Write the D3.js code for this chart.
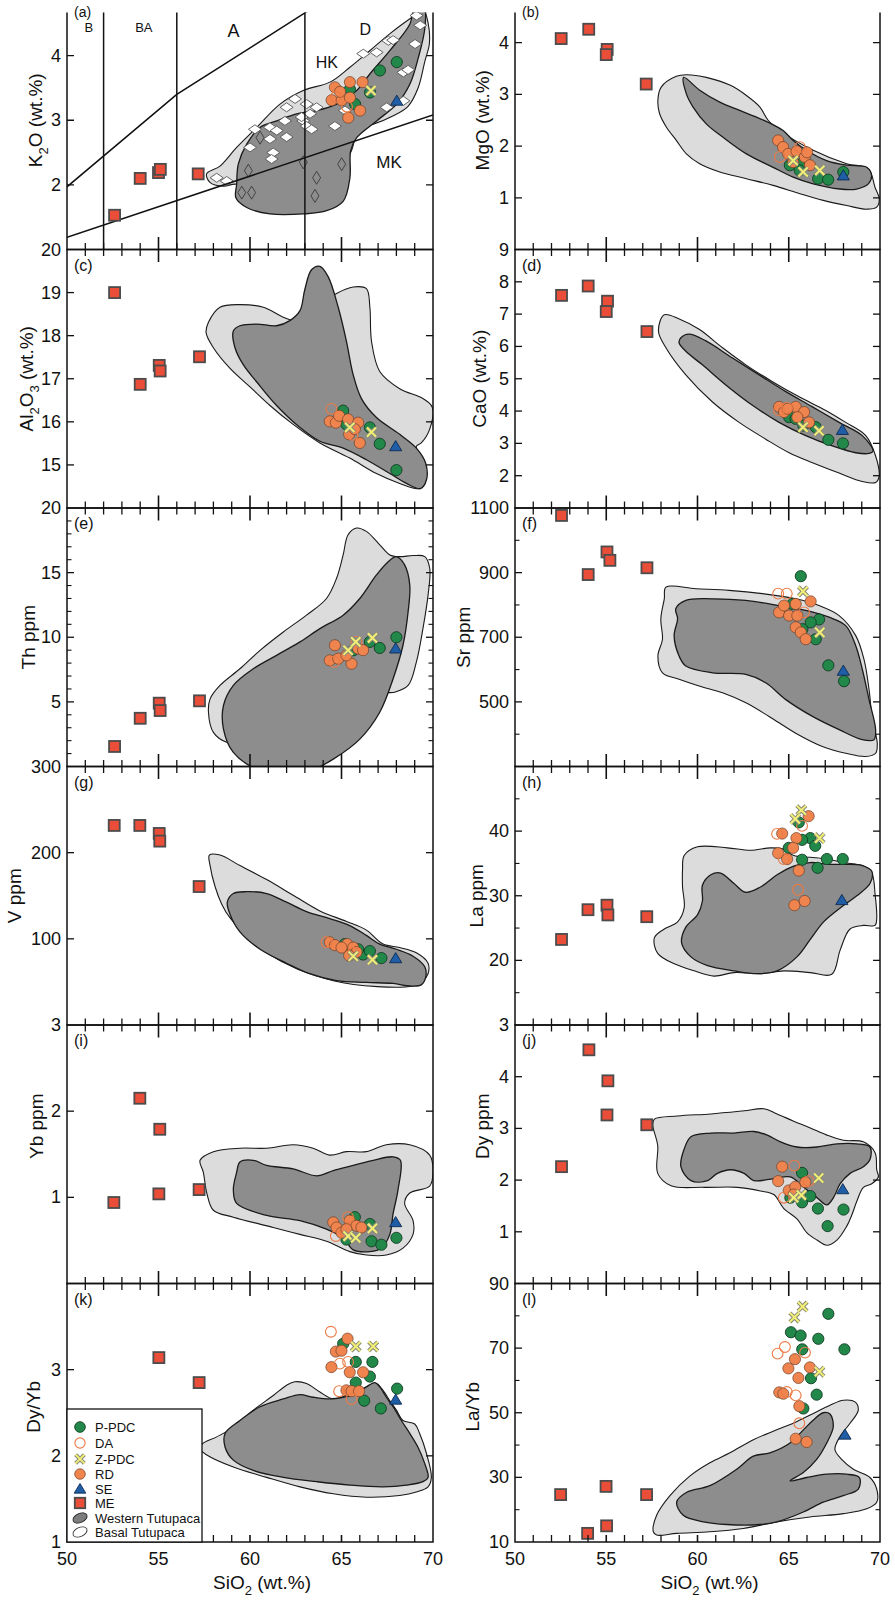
<!DOCTYPE html>
<html><head><meta charset="utf-8">
<script src="https://cdn.jsdelivr.net/npm/d3@7"></script>
<style>body{margin:0;background:#fff}svg{display:block}</style>
</head><body><svg id="c" width="895" height="1600"></svg>
<script>
// ---------------- DATA ----------------
const groups = ["P-PDC","DA","Z-PDC","RD","SE","ME"];
const fieldNames = ["Western Tutupaca","Basal Tutupaca"];
const xTickValues = d3.range(50,71,1);
const xTickLabels = [50,55,60,65,70];

// (a) K2O
const dataA = [
 ["ME",52.6,1.53],["ME",54.0,2.10],["ME",55.0,2.19],["ME",55.1,2.24],["ME",57.17,2.17],
 ["P-PDC",67.1,3.77],["P-PDC",68.02,3.90],["P-PDC",66.56,3.43],["P-PDC",65.74,3.25],["P-PDC",65.46,3.48],
 ["RD",64.64,3.51],["RD",65.46,3.59],["RD",66.15,3.59],["RD",64.46,3.31],["RD",65.01,3.31],["RD",65.46,3.35],["RD",66.01,3.15],["RD",65.37,3.04],["RD",64.92,3.44],
 ["DA",65.3,3.21],["DA",64.7,3.36],
 ["Z-PDC",66.61,3.46],["SE",68.02,3.3]
];
const basalDiamondsA = [[58.18,2.11],[58.73,2.06],[60.0,2.58],[60.27,2.86],[61.09,2.89],[61.91,2.99],[62.0,3.20],[62.46,3.33],[61.46,2.84],[61.09,2.71],[62.0,2.74],
 [62.91,2.99],[63.28,3.10],[62.82,3.05],[63.64,3.20],[63.1,3.25],[63.1,2.91],[63.37,2.86],[64.64,2.91],[61.27,2.50],[61.18,2.40],
 [66.19,4.03],[66.92,4.05],[67.56,4.23],[69.02,4.18],[69.3,4.47],[69.1,4.62],[68.38,3.74],[68.38,3.30],[67.47,3.20],[65.19,3.15],[68.64,3.78],[67.82,4.24]];
const westernDiamondsA = [[59.91,2.22],[59.55,1.88],[60.09,1.88],[60.55,2.73],[62.91,2.35],[63.64,2.11],[63.55,1.83],[65.01,2.32]];
const classVerticals = [52,56,63];
const classUpperLine = [[50,1.97],[56,3.4],[63,4.66],[70,5.9]];
const classLowerLine = [[50,1.19],[70,3.08]];
const classLabels = [["B",51.2,4.45],["BA",54.2,4.45],["A",59.1,4.4],["D",66.3,4.42],["HK",64.2,3.91],["MK",67.6,2.36]];
const lightA = [[57.63,2.17],[58.36,2.29],[59.27,2.58],[60.37,2.89],[61.64,3.25],[62.91,3.46],[64.37,3.59],[65.46,3.82],[66.56,4.08],[67.65,4.34],[68.74,4.57],[69.47,4.7],[69.74,4.49],[69.8,4.18],[69.56,3.92],[69.2,3.51],[68.65,3.22],[67.83,3.07],[66.74,2.94],[65.92,2.88],[65.5,2.5],[63.5,1.8],[60.5,1.8],[59.27,2.01],[58.54,1.98],[57.81,2.04]];
const darkA = [[59.27,2.01],[59.23,1.80],[59.82,1.65],[61.09,1.55],[62.91,1.55],[64.19,1.60],[65.1,1.75],[65.46,2.11],[65.5,2.53],[65.83,2.73],[66.92,2.99],[68.02,3.25],[68.74,3.56],[69.2,3.97],[69.56,4.44],[69.5,4.8],[69.0,4.75],[68.74,4.49],[67.65,4.08],[66.56,3.72],[65.83,3.46],[64.74,3.25],[63.64,3.15],[62.55,3.10],[61.46,2.99],[60.55,2.89],[59.82,2.63],[59.36,2.32]];

// (b) MgO
const dataB = [
 ["ME",52.53,4.08],["ME",54.04,4.26],["ME",55.05,3.87],["ME",55.0,3.77],["ME",57.19,3.20],
 ["RD",64.42,2.11],["RD",64.69,1.98],["RD",64.97,1.85],["RD",65.43,1.90],["RD",65.88,1.79],["RD",66.16,1.63],["RD",65.24,1.69],["RD",66.0,1.88],
 ["DA",64.51,1.79],["DA",65.61,1.98],
 ["P-PDC",65.06,1.63],["P-PDC",65.7,1.66],["P-PDC",66.61,1.37],["P-PDC",67.16,1.35],["P-PDC",67.99,1.50],["P-PDC",65.6,1.53],
 ["Z-PDC",65.24,1.72],["Z-PDC",65.79,1.50],["Z-PDC",66.7,1.53],["SE",67.99,1.43]
];
const lightB = [[58.84,3.35],[59.39,3.38],[60.48,3.33],[61.77,3.18],[62.68,2.98],[63.41,2.76],[63.87,2.50],[64.51,2.30],[66.34,1.92],[68.17,1.66],[69.36,1.56],[69.73,1.20],[69.96,0.98],[69.82,0.82],[69.27,0.78],[68.17,0.85],[66.89,0.95],[65.61,1.08],[64.14,1.24],[62.68,1.37],[61.22,1.50],[60.12,1.66],[59.39,1.85],[58.84,2.11],[58.29,2.37],[57.92,2.63],[57.83,2.89],[58.01,3.14]];
const darkB = [[59.24,3.33],[60.12,3.08],[61.22,2.85],[62.31,2.69],[63.23,2.56],[64.05,2.43],[64.69,2.30],[65.24,2.11],[65.97,1.92],[67.07,1.72],[68.17,1.63],[69.27,1.59],[69.54,1.43],[69.36,1.27],[68.72,1.17],[67.8,1.17],[66.34,1.27],[65.24,1.40],[64.14,1.59],[62.68,1.85],[61.4,2.17],[60.48,2.43],[59.75,2.76],[59.39,3.01]];

// (c) Al2O3
const dataC = [
 ["ME",52.6,19.0],["ME",54.0,16.87],["ME",55.04,17.31],["ME",55.09,17.18],["ME",57.24,17.51],
 ["RD",64.36,16.01],["RD",64.69,15.98],["RD",64.87,16.14],["RD",65.36,16.06],["RD",65.91,15.98],["RD",65.42,15.71],["RD",66.0,15.51],["RD",65.73,15.83],
 ["DA",64.45,16.3],["DA",65.6,15.7],
 ["P-PDC",65.09,16.26],["P-PDC",65.64,15.87],["P-PDC",66.55,15.87],["P-PDC",67.09,15.49],["P-PDC",68.0,14.88],["P-PDC",65.27,15.94],
 ["Z-PDC",66.64,15.76],["Z-PDC",65.45,15.87],["SE",67.96,15.43]
];
const lightC = [[57.73,18.31],[58.36,18.66],[59.45,18.72],[60.73,18.66],[61.82,18.43],[62.55,18.35],[63.64,18.66],[64.73,18.98],[65.64,19.13],[66.36,19.09],[66.55,18.66],[66.64,17.87],[67.09,17.17],[68.18,16.77],[69.45,16.54],[69.96,16.34],[69.82,15.83],[69.36,15.51],[69.09,15.43],[69.45,15.04],[69.55,14.57],[69.18,14.45],[68.18,14.57],[66.91,14.8],[65.45,15.16],[63.82,15.51],[62.36,15.94],[61.09,16.38],[60.0,16.81],[58.91,17.24],[58.0,17.72],[57.6,18.07]];
const darkC = [[59.09,18.11],[59.18,17.72],[59.64,17.32],[60.36,16.93],[61.45,16.38],[62.73,15.87],[63.82,15.55],[65.09,15.39],[66.36,15.12],[67.64,14.8],[68.55,14.57],[69.31,14.45],[69.64,14.65],[69.6,15.04],[69.09,15.39],[68.18,15.71],[66.91,16.1],[66.09,16.54],[65.64,17.09],[65.27,17.87],[64.82,18.66],[64.27,19.37],[63.82,19.61],[63.36,19.53],[62.99,19.06],[62.73,18.58],[62.18,18.35],[61.45,18.23],[60.36,18.27],[59.45,18.23]];

// (d) CaO
const dataD = [
 ["ME",52.55,7.58],["ME",54.01,7.87],["ME",55.07,7.40],["ME",55.0,7.08],["ME",57.23,6.46],
 ["RD",64.47,4.13],["RD",64.74,3.97],["RD",65.38,4.13],["RD",65.84,3.97],["RD",65.47,3.81],["RD",66.11,3.65],["RD",64.93,4.07],
 ["DA",64.47,4.02],["DA",64.9,4.1],
 ["P-PDC",65.02,3.81],["P-PDC",66.48,3.50],["P-PDC",67.17,3.11],["P-PDC",67.97,3.0],["P-PDC",65.38,3.76],["P-PDC",65.8,3.55],
 ["Z-PDC",65.78,3.50],["Z-PDC",66.66,3.39],["SE",67.94,3.41]
];
const lightD = [[58.18,6.98],[59.0,6.85],[60.09,6.53],[61.37,5.96],[62.65,5.43],[64.11,4.91],[65.57,4.44],[67.03,4.02],[68.12,3.65],[69.22,3.24],[69.76,2.61],[69.95,1.98],[69.76,1.79],[69.03,1.82],[67.76,2.08],[66.3,2.40],[65.02,2.71],[63.74,3.13],[62.28,3.65],[60.82,4.28],[59.36,5.12],[58.27,5.96],[57.86,6.48]];
const darkD = [[59.09,6.27],[59.54,6.38],[60.46,6.17],[61.92,5.64],[63.38,5.12],[64.84,4.60],[66.3,4.13],[67.76,3.65],[69.03,3.24],[69.62,2.76],[69.4,2.69],[68.67,2.71],[67.39,2.92],[65.93,3.24],[64.47,3.65],[63.01,4.18],[61.55,4.81],[60.27,5.43],[59.36,5.85],[58.99,6.12]];

// (e) Th
const dataE = [
 ["ME",52.6,1.55],["ME",54.0,3.73],["ME",55.04,4.9],["ME",55.09,4.33],["ME",57.24,5.08],
 ["RD",64.64,9.38],["RD",64.36,8.21],["RD",64.82,8.34],["RD",65.55,7.95],["RD",65.27,8.6],["RD",65.91,9.12],["RD",66.18,9.0],
 ["DA",65.82,9.64],["DA",64.6,8.1],
 ["P-PDC",68.0,10.0],["P-PDC",67.09,9.17],["P-PDC",66.55,9.64],["P-PDC",65.64,8.99],
 ["Z-PDC",65.36,8.99],["Z-PDC",65.78,9.64],["Z-PDC",66.69,9.95],["SE",67.96,9.12]
];
const lightE = [[65.36,17.93],[65.82,18.45],[66.36,18.19],[67.09,17.15],[67.64,16.37],[68.18,16.24],[68.91,16.32],[69.55,16.24],[69.82,15.34],[69.73,13.26],[69.45,10.67],[69.09,8.08],[68.64,6.27],[67.91,5.75],[67.27,5.62],[65.45,2.9],[60.91,1.61],[58.73,1.87],[58.0,2.64],[57.73,4.20],[57.82,5.23],[58.36,6.27],[59.45,7.56],[60.55,8.99],[61.82,10.41],[63.09,11.71],[64.18,13.0],[64.73,14.56],[65.09,16.37]];
const darkE = [[67.55,15.85],[68.0,16.24],[68.45,15.6],[68.73,14.04],[68.64,11.97],[68.36,9.38],[67.82,6.79],[67.09,4.20],[66.0,2.12],[64.55,0.57],[63.27,-0.34],[61.82,-0.6],[60.36,-0.2],[59.09,1.09],[58.55,2.9],[58.55,4.72],[59.09,6.27],[60.18,7.56],[61.45,8.6],[62.73,9.64],[63.82,10.67],[65.09,11.71],[66.0,13.0],[66.91,14.82]];

// (f) Sr
const dataF = [
 ["ME",52.55,1077],["ME",54.01,894],["ME",55.04,964],["ME",55.2,938],["ME",57.23,915],
 ["RD",64.47,777],["RD",64.74,798],["RD",65.02,767],["RD",65.47,767],["RD",65.38,731],["RD",65.66,715],["RD",65.93,694],["RD",66.2,811],["RD",65.38,803],
 ["DA",64.42,835],["DA",64.89,835],["DA",65.84,777],
 ["P-PDC",65.66,889],["P-PDC",65.2,803],["P-PDC",66.66,755],["P-PDC",66.2,746],["P-PDC",66.48,694],["P-PDC",67.17,613],["P-PDC",68.03,564],["P-PDC",65.75,725],
 ["Z-PDC",65.78,842],["Z-PDC",66.7,715],["SE",67.99,596]
];
const lightF = [[58.27,855],[59.91,850],[61.73,845],[63.56,835],[65.38,819],[66.66,798],[67.76,767],[68.67,705],[69.12,632],[69.4,538],[69.58,445],[69.85,372],[69.76,341],[69.22,331],[68.12,341],[66.84,362],[65.38,403],[63.92,455],[62.65,497],[61.37,528],[60.09,549],[58.99,570],[58.08,590],[57.83,642],[58.08,694],[57.99,757],[58.18,819]];
const darkF = [[58.81,788],[59.36,814],[60.82,819],[62.65,814],[64.47,798],[65.93,783],[67.21,762],[68.12,736],[68.67,674],[69.03,601],[69.4,507],[69.76,414],[69.67,383],[69.03,383],[67.76,414],[66.3,455],[64.84,507],[63.74,559],[62.65,585],[60.82,590],[59.36,611],[58.99,642],[58.72,705],[58.91,757]];

// (g) V
const dataG = [
 ["ME",52.58,231.6],["ME",53.98,231.6],["ME",55.04,222.3],["ME",55.07,213.4],["ME",57.22,160.7],
 ["RD",64.36,96],["RD",64.64,92.7],["RD",65.31,93.9],["RD",65.64,89.9],["RD",65.82,84.6],["RD",65.0,89.9],["RD",65.42,80.6],
 ["DA",64.18,96],["DA",65.64,83.8],
 ["P-PDC",65.18,93.9],["P-PDC",66.18,81.8],["P-PDC",66.55,85.8],["P-PDC",67.18,77.7],["P-PDC",65.91,87.9],
 ["Z-PDC",65.64,79.8],["Z-PDC",66.69,75.7],["SE",67.96,77.3]
];
const lightG = [[57.78,197.2],[58.36,197.2],[59.45,185],[60.91,168.8],[62.36,150.6],[63.82,132.4],[65.27,120.2],[66.36,110.1],[67.27,93.9],[68.18,89.9],[69.09,83.8],[69.73,71.7],[69.73,59.5],[69.45,51.4],[68.91,45.3],[64.55,51.4],[60.91,83.8],[58.91,124.3],[58.45,140.5],[58.09,160.7],[57.82,185]];
const darkG = [[58.76,142.5],[59.09,152.6],[59.82,154.7],[60.91,152.6],[62.0,142.5],[63.09,131.6],[64.36,123.5],[65.45,115.4],[66.36,104],[67.09,93.9],[68.0,87.9],[68.91,79.8],[69.55,67.6],[69.6,55.5],[69.36,46.6],[68.73,45.3],[67.82,48.2],[66.36,49.4],[64.73,51.4],[63.27,59.5],[62.0,71.7],[60.55,87.9],[59.45,108.1],[58.91,128.3]];

// (h) La
const dataH = [
 ["ME",52.55,23.24],["ME",54.0,27.84],["ME",55.04,28.54],["ME",55.09,27.03],["ME",57.22,26.76],
 ["RD",66.09,42.32],["RD",64.64,39.62],["RD",65.42,38.92],["RD",65.24,37.41],["RD",64.42,36.59],["RD",64.91,35.68],["RD",65.55,33.89],["RD",65.31,28.54],["RD",65.87,29.19],
 ["P-PDC",65.55,41.35],["P-PDC",66.18,38.92],["P-PDC",65.73,38.65],["P-PDC",66.45,37.73],["P-PDC",65.73,35.57],["P-PDC",67.09,35.68],["P-PDC",67.96,35.68],["P-PDC",66.58,34.32],["P-PDC",65.0,37.41],
 ["DA",64.36,39.57],["DA",65.73,40.81],["DA",64.73,35.68],["DA",65.51,30.92],
 ["Z-PDC",65.69,43.24],["Z-PDC",65.36,41.89],["Z-PDC",66.69,38.92],["SE",67.91,29.3]
];
const lightH = [[59.18,34.05],[59.27,36.22],[60.0,37.57],[61.64,37.41],[62.91,37.03],[64.0,37.41],[64.73,37.19],[65.27,36.22],[66.18,35.95],[67.09,35.68],[68.0,35.14],[69.09,34.59],[69.55,33.51],[69.73,30.27],[69.82,26.49],[69.73,25.41],[69.09,25.41],[68.36,24.86],[67.82,21.62],[67.36,17.84],[66.18,18.11],[64.73,18.38],[63.45,17.95],[62.0,18.11],[60.91,17.57],[59.82,18.38],[58.73,19.46],[57.82,21.08],[57.64,23.51],[58.18,24.86],[58.91,25.95],[59.27,28.11],[59.18,31.35]];
const darkH = [[60.27,31.62],[60.73,33.24],[61.27,33.51],[62.0,31.89],[62.64,30.54],[63.45,31.35],[64.36,33.24],[65.27,34.59],[66.18,35.14],[67.09,34.86],[68.0,34.86],[69.0,34.7],[69.55,33.78],[69.45,31.89],[68.73,30.0],[67.82,28.11],[66.91,25.95],[66.18,23.24],[65.45,20.54],[64.36,18.38],[63.27,17.95],[62.0,18.38],[60.55,19.19],[59.64,20.54],[59.13,22.7],[59.36,25.14],[60.0,27.03],[60.27,29.19]];

// (i) Yb
const dataI = [
 ["ME",52.56,0.94],["ME",53.98,2.15],["ME",55.07,1.79],["ME",55.02,1.04],["ME",57.22,1.09],
 ["RD",64.55,0.71],["RD",64.73,0.65],["RD",65.0,0.59],["RD",65.45,0.73],["RD",65.82,0.67],["RD",66.09,0.65],["RD",65.27,0.63],
 ["DA",65.36,0.77],["DA",64.69,0.55],
 ["P-PDC",65.73,0.77],["P-PDC",66.55,0.69],["P-PDC",66.64,0.49],["P-PDC",67.18,0.45],["P-PDC",68.0,0.53],["P-PDC",65.27,0.51],
 ["Z-PDC",65.36,0.55],["Z-PDC",65.78,0.53],["Z-PDC",66.69,0.64],["SE",67.96,0.71]
];
const lightI = [[57.45,1.29],[57.27,1.43],[58.0,1.53],[59.45,1.57],[60.91,1.57],[62.36,1.61],[63.45,1.57],[64.36,1.49],[65.27,1.53],[66.36,1.53],[67.45,1.61],[68.73,1.61],[69.82,1.49],[70.0,1.29],[69.82,1.13],[68.73,1.05],[68.45,0.93],[68.91,0.73],[68.91,0.57],[68.36,0.41],[67.45,0.33],[66.36,0.33],[65.45,0.37],[64.18,0.49],[62.73,0.57],[61.27,0.65],[59.09,0.77],[58.0,0.85],[57.64,1.05]];
const darkI = [[59.27,1.29],[59.45,1.41],[60.18,1.43],[60.91,1.37],[62.36,1.33],[63.64,1.25],[64.55,1.31],[65.64,1.37],[66.73,1.43],[67.82,1.47],[68.22,1.43],[68.09,1.09],[67.82,0.81],[67.64,0.57],[67.18,0.41],[66.55,0.37],[65.64,0.39],[65.09,0.53],[64.18,0.63],[62.73,0.73],[60.91,0.79],[59.27,0.93],[59.09,1.09]];

// (j) Dy
const dataJ = [
 ["ME",52.55,2.26],["ME",54.05,4.52],["ME",55.09,3.92],["ME",55.04,3.26],["ME",57.22,3.07],
 ["RD",64.64,2.26],["RD",64.42,1.98],["RD",65.0,1.80],["RD",65.36,1.87],["RD",65.91,1.96],["RD",65.27,1.72],
 ["DA",65.31,2.28],["DA",66.09,1.98],["DA",64.73,1.66],
 ["P-PDC",65.73,2.14],["P-PDC",65.09,1.66],["P-PDC",65.73,1.57],["P-PDC",66.18,1.69],["P-PDC",66.6,1.45],["P-PDC",67.13,1.11],["P-PDC",68.0,1.43],
 ["Z-PDC",66.64,2.04],["Z-PDC",65.69,1.71],["Z-PDC",65.27,1.66],["SE",67.96,1.82]
];
const lightJ = [[57.55,3.07],[57.64,3.18],[58.91,3.24],[60.73,3.28],[62.55,3.34],[63.64,3.38],[64.36,3.28],[65.27,3.14],[66.18,3.01],[67.09,2.87],[68.0,2.77],[69.09,2.74],[69.73,2.53],[69.82,2.20],[69.91,2.06],[69.55,1.93],[69.09,1.86],[68.73,1.59],[68.45,1.32],[68.18,1.11],[67.64,0.84],[67.09,0.74],[66.55,0.84],[66.0,0.98],[65.45,1.25],[64.73,1.45],[64.18,1.72],[63.45,1.79],[62.18,1.86],[60.36,1.86],[58.55,1.89],[57.82,2.13],[57.82,2.67]];
const darkJ = [[59.09,2.26],[59.27,2.60],[59.64,2.84],[60.73,2.91],[62.0,2.91],[63.09,2.94],[63.82,2.87],[64.55,2.74],[65.45,2.64],[66.55,2.64],[67.64,2.70],[68.73,2.70],[69.45,2.64],[69.45,2.40],[69.09,2.26],[68.36,2.13],[67.82,1.93],[67.45,1.66],[67.09,1.52],[66.55,1.66],[65.82,1.86],[65.09,2.06],[64.18,2.03],[63.09,1.99],[62.55,2.13],[61.82,2.20],[61.09,2.13],[60.55,1.99],[59.64,1.99]];

// (k) Dy/Yb
const dataK = [
 ["ME",52.56,2.40],["ME",53.98,2.10],["ME",55.02,3.14],["ME",55.07,2.19],["ME",57.22,2.85],
 ["RD",65.33,3.36],["RD",64.69,3.21],["RD",65.0,3.22],["RD",64.45,3.03],["RD",65.45,2.97],["RD",66.18,2.97],["RD",65.27,2.76],["RD",65.55,2.75],["RD",65.96,2.75],
 ["P-PDC",65.09,3.30],["P-PDC",65.78,3.09],["P-PDC",66.69,3.09],["P-PDC",66.55,2.92],["P-PDC",65.78,2.85],["P-PDC",66.24,2.64],["P-PDC",67.15,2.55],["P-PDC",68.04,2.78],
 ["DA",64.42,3.44],["DA",64.91,3.07],["DA",65.36,3.09],["DA",64.87,2.75],["DA",65.55,2.66],
 ["Z-PDC",65.78,3.27],["Z-PDC",66.73,3.27],["SE",67.96,2.65]
];
const lightK = [[57.27,2.08],[57.4,2.14],[58.18,2.22],[59.09,2.33],[60.18,2.53],[61.27,2.70],[62.0,2.82],[62.45,2.86],[63.09,2.84],[63.82,2.74],[64.55,2.66],[65.27,2.70],[66.0,2.76],[66.55,2.82],[66.91,2.84],[67.27,2.76],[67.64,2.64],[68.0,2.53],[68.36,2.41],[69.0,2.37],[69.27,2.26],[69.64,2.03],[69.91,1.75],[69.73,1.64],[69.09,1.58],[68.18,1.54],[66.36,1.52],[64.55,1.56],[62.73,1.64],[60.91,1.75],[59.09,1.87],[57.64,2.01]];
const darkK = [[58.64,2.10],[58.64,2.26],[59.45,2.41],[60.55,2.57],[61.82,2.66],[62.73,2.71],[63.45,2.68],[64.36,2.66],[65.09,2.68],[65.82,2.72],[66.36,2.80],[66.82,2.85],[67.09,2.80],[67.45,2.68],[67.82,2.57],[68.27,2.41],[68.73,2.26],[69.18,2.10],[69.55,1.91],[69.73,1.75],[69.45,1.70],[68.55,1.66],[67.27,1.64],[65.45,1.66],[63.64,1.70],[61.82,1.75],[60.18,1.83],[59.09,1.95]];

// (l) La/Yb
const dataL = [
 ["ME",52.5,24.67],["ME",53.98,12.67],["ME",54.99,27.21],["ME",55.02,15.0],["ME",57.21,24.67],
 ["RD",65.34,66.58],["RD",64.98,63.73],["RD",66.16,64.04],["RD",65.53,60.78],["RD",64.48,56.31],["RD",64.7,55.9],["RD",65.58,52.03],["RD",65.38,41.96],["RD",65.98,40.95],
 ["P-PDC",65.12,74.92],["P-PDC",65.65,73.9],["P-PDC",67.17,80.62],["P-PDC",66.62,72.89],["P-PDC",65.74,69.63],["P-PDC",68.05,69.63],["P-PDC",66.22,60.68],["P-PDC",66.53,55.6],["P-PDC",65.8,51.32],
 ["DA",64.39,68.31],["DA",64.79,70.35],["DA",65.89,68.62],["DA",64.89,56.41],["DA",65.38,55.39],["DA",65.58,46.74],
 ["Z-PDC",65.31,79.5],["Z-PDC",65.76,82.86],["Z-PDC",66.68,62.72],["SE",68.08,43.18]
];
const lightL = [[57.58,13.17],[57.76,18.26],[58.49,24.36],[59.59,30.47],[60.68,34.54],[61.78,37.59],[63.06,41.66],[64.34,44.71],[65.43,47.25],[66.35,49.8],[67.26,52.34],[67.99,53.87],[68.63,53.36],[68.81,50.81],[68.36,46.74],[67.81,42.68],[67.53,38.61],[67.9,35.55],[68.54,32.5],[69.45,29.96],[69.82,26.4],[69.82,22.33],[69.27,20.29],[67.99,18.77],[66.16,17.75],[64.34,16.23],[62.51,14.19],[60.68,13.17],[58.86,12.67],[57.76,12.16]];
const darkL = [[58.86,22.33],[59.41,25.38],[60.68,27.42],[62.15,32.5],[63.06,36.57],[63.97,37.59],[65.07,40.64],[65.8,44.71],[66.35,47.76],[66.89,50.0],[67.26,49.59],[67.44,45.73],[67.08,40.64],[66.53,35.55],[65.8,31.49],[65.07,28.94],[65.98,29.96],[67.08,30.98],[68.17,30.98],[68.87,29.96],[68.81,26.4],[67.99,24.36],[66.89,22.33],[65.8,19.28],[64.34,16.23],[63.42,15.41],[61.6,15.41],[60.32,16.23],[59.22,18.26]];

// ---------------- LAYOUT / STYLE ----------------
const FONT = "'Liberation Sans', Arial, Helvetica, sans-serif";
const COLS = [[67,433],[515,880]];
const BOTTOMS = [249.5,508,766.5,1025,1283.5,1542];
const PH = 258.5;

const panels = [
 {k:'a',col:0,row:0,dom:[1,5],ticks:[2,3,4],minor:[],top:null,title:[["K",0],["2",1],["O (wt.%)",0]],tx:-25,ty:0,data:dataA,light:lightA,dark:darkA},
 {k:'b',col:1,row:0,dom:[0,5],ticks:[1,2,3,4],minor:[],top:null,title:[["MgO (wt.%)",0]],tx:-26,ty:0,data:dataB,light:lightB,dark:darkB},
 {k:'c',col:0,row:1,dom:[14,20],ticks:[15,16,17,18,19],minor:[],top:"20",title:[["Al",0],["2",1],["O",0],["3",1],[" (wt.%)",0]],tx:-34,ty:0,data:dataC,light:lightC,dark:darkC},
 {k:'d',col:1,row:1,dom:[1,9],ticks:[2,3,4,5,6,7,8],minor:[],top:"9",title:[["CaO  (wt.%)",0]],tx:-29,ty:0,data:dataD,light:lightD,dark:darkD},
 {k:'e',col:0,row:2,dom:[0,20],ticks:[5,10,15],minor:d3.range(1,20).filter(v=>v%5),top:"20",title:[["Th ppm",0]],tx:-32,ty:0,data:dataE,light:lightE,dark:darkE},
 {k:'f',col:1,row:2,dom:[300,1100],ticks:[500,700,900],minor:[400,600,800,1000],top:"1100",title:[["Sr ppm",0]],tx:-45,ty:0,data:dataF,light:lightF,dark:darkF},
 {k:'g',col:0,row:3,dom:[0,300],ticks:[100,200],minor:[],top:"300",title:[["V ppm",0]],tx:-46,ty:0,data:dataG,light:lightG,dark:darkG},
 {k:'h',col:1,row:3,dom:[10,50],ticks:[20,30,40],minor:[15,25,35,45],top:null,title:[["La ppm",0]],tx:-32,ty:0,data:dataH,light:lightH,dark:darkH},
 {k:'i',col:0,row:4,dom:[0,3],ticks:[1,2],minor:[],top:"3",title:[["Yb ppm",0]],tx:-24,ty:-28,data:dataI,light:lightI,dark:darkI},
 {k:'j',col:1,row:4,dom:[0,5],ticks:[1,2,3,4],minor:[],top:"3",title:[["Dy ppm",0]],tx:-26,ty:-28,data:dataJ,light:lightJ,dark:darkJ},
 {k:'k',col:0,row:5,dom:[1,4],ticks:[1,2,3],minor:[],top:null,title:[["Dy/Yb",0]],tx:-27,ty:-6,data:dataK,light:lightK,dark:darkK},
 {k:'l',col:1,row:5,dom:[10,90],ticks:[10,30,50,70],minor:[20,40,60,80],top:"90",title:[["La/Yb",0]],tx:-36,ty:-6,data:dataL,light:lightL,dark:darkL}
];

const C = {green:'#21884a',greenS:'#123d24',orange:'#f0844e',orangeS:'#6e4128',da:'#ec7a45',blue:'#1f5ea6',blueS:'#0d2a52',red:'#ea4d38',redS:'#4c4c4c',light:'#dcdcdc',dark:'#8d8d8d',yellow:'#f1ef76',xgray:'#8a8a78'};
const drawOrder = ["P-PDC","RD","DA","Z-PDC","SE","ME"];

const svg = d3.select('#c');
const defs = svg.append('defs');
// top crop of the scanned figure
defs.append('clipPath').attr('id','pageclip').append('rect').attr('x',0).attr('y',12.5).attr('width',895).attr('height',1600);
const root = svg.append('g').attr('clip-path','url(#pageclip)');
const labelLayer = svg.append('g');

function marker(g, grp, cx, cy, s) {
  s = s || 1;
  if (grp === 'ME') {
    g.append('rect').attr('x',cx-5.5*s).attr('y',cy-5.5*s).attr('width',11*s).attr('height',11*s)
      .attr('fill',C.red).attr('stroke',C.redS).attr('stroke-width',1.8);
  } else if (grp === 'P-PDC') {
    g.append('circle').attr('cx',cx).attr('cy',cy).attr('r',5.6*s).attr('fill',C.green).attr('stroke',C.greenS).attr('stroke-width',0.9);
  } else if (grp === 'RD') {
    g.append('circle').attr('cx',cx).attr('cy',cy).attr('r',5.6*s).attr('fill',C.orange).attr('stroke',C.orangeS).attr('stroke-width',0.7);
  } else if (grp === 'DA') {
    g.append('circle').attr('cx',cx).attr('cy',cy).attr('r',5.4*s).attr('fill','none').attr('stroke',C.da).attr('stroke-width',1.1);
  } else if (grp === 'SE') {
    const h = 5.8*s;
    g.append('path').attr('d',`M${cx},${cy-h}L${cx+h*1.05},${cy+h*0.75}L${cx-h*1.05},${cy+h*0.75}Z`)
      .attr('fill',C.blue).attr('stroke',C.blueS).attr('stroke-width',0.9);
  } else if (grp === 'Z-PDC') {
    const a = 4.6*s;
    const d = `M${cx-a},${cy-a}L${cx+a},${cy+a}M${cx-a},${cy+a}L${cx+a},${cy-a}`;
    g.append('path').attr('d',d).attr('stroke',C.xgray).attr('stroke-width',4);
    g.append('path').attr('d',d).attr('stroke',C.yellow).attr('stroke-width',2);
  }
}

function richText(t, parts, subSize) {
  let shifted = false;
  parts.forEach(([s,sub]) => {
    const ts = t.append('tspan').text(s);
    if (sub) { ts.attr('font-size',subSize).attr('dy',6); shifted = true; }
    else if (shifted) { ts.attr('dy',-6); shifted = false; }
  });
}

panels.forEach(p => {
  const [L,R] = COLS[p.col];
  const B = BOTTOMS[p.row], T = B - PH;
  const x = d3.scaleLinear().domain([50,70]).range([L,R]);
  const y = d3.scaleLinear().domain(p.dom).range([B,T]);
  const g = root.append('g');
  const cid = 'clip-'+p.k;
  defs.append('clipPath').attr('id',cid).append('rect').attr('x',L).attr('y',T).attr('width',R-L).attr('height',PH);
  const inner = g.append('g').attr('clip-path',`url(#${cid})`);
  const area = d3.line().x(d=>x(d[0])).y(d=>y(d[1])).curve(d3.curveCatmullRomClosed.alpha(0.5));
  inner.append('path').attr('d',area(p.light)).attr('fill',C.light).attr('stroke','#1a1a1a').attr('stroke-width',1.1);
  inner.append('path').attr('d',area(p.dark)).attr('fill',C.dark).attr('stroke','#1a1a1a').attr('stroke-width',1.3);

  if (p.k === 'a') {
    const lin = d3.line().x(d=>x(d[0])).y(d=>y(d[1]));
    basalDiamondsA.forEach(([dx,dy]) => {
      const cx=x(dx), cy=y(dy);
      inner.append('path').attr('d',`M${cx-6.5},${cy}L${cx},${cy-4.5}L${cx+6.5},${cy}L${cx},${cy+4.5}Z`).attr('fill','#fff').attr('stroke','#555').attr('stroke-width',0.9);
    });
    westernDiamondsA.forEach(([dx,dy]) => {
      const cx=x(dx), cy=y(dy);
      inner.append('path').attr('d',`M${cx-4},${cy}L${cx},${cy-6.5}L${cx+4},${cy}L${cx},${cy+6.5}Z`).attr('fill','none').attr('stroke','#3a3a3a').attr('stroke-width',0.9);
    });
    classVerticals.forEach(v => inner.append('line').attr('x1',x(v)).attr('x2',x(v)).attr('y1',T).attr('y2',B).attr('stroke','#111').attr('stroke-width',1.5));
    inner.append('path').attr('d',lin(classUpperLine)).attr('fill','none').attr('stroke','#111').attr('stroke-width',1.5);
    inner.append('path').attr('d',lin(classLowerLine)).attr('fill','none').attr('stroke','#111').attr('stroke-width',1.5);
    const sizes = {B:13,BA:13,A:18,D:16,HK:16,MK:17};
    classLabels.forEach(([t,lx,ly]) => inner.append('text').attr('x',x(lx)).attr('y',y(ly)+1).attr('text-anchor','middle')
      .attr('dominant-baseline','central').attr('font-family',FONT).attr('font-size',sizes[t]).attr('fill','#111').text(t));
  }

  drawOrder.forEach(grp => p.data.filter(d=>d[0]===grp).forEach(d => marker(inner, grp, x(d[1]), y(d[2]))));

  // frame
  g.append('rect').attr('x',L).attr('y',T).attr('width',R-L).attr('height',PH).attr('fill','none').attr('stroke','#111').attr('stroke-width',1.5);

  // x ticks at bottom edge
  xTickValues.forEach(v => {
    if (v===50||v===70) return;
    const major = v%5===0;
    let y1, y2;
    if (p.row===5) { y1 = B; y2 = B-7; }
    else { const h = major?12.5:6.5; y1 = B-h; y2 = B+h; }
    g.append('line').attr('x1',x(v)).attr('x2',x(v)).attr('y1',y1).attr('y2',y2).attr('stroke','#111').attr('stroke-width',major?1.6:1.3);
  });
  // y ticks
  p.ticks.filter(v=>v>p.dom[0]&&v<p.dom[1]).forEach(v => {
    g.append('line').attr('x1',L).attr('x2',L+7).attr('y1',y(v)).attr('y2',y(v)).attr('stroke','#111').attr('stroke-width',1.3);
    g.append('line').attr('x1',R).attr('x2',R-7).attr('y1',y(v)).attr('y2',y(v)).attr('stroke','#111').attr('stroke-width',1.3);
  });
  p.minor.forEach(v => {
    g.append('line').attr('x1',L).attr('x2',L+4.5).attr('y1',y(v)).attr('y2',y(v)).attr('stroke','#111').attr('stroke-width',1.1);
    g.append('line').attr('x1',R).attr('x2',R-4.5).attr('y1',y(v)).attr('y2',y(v)).attr('stroke','#111').attr('stroke-width',1.1);
  });
  p.ticks.forEach(v => g.append('text').attr('x',L-6).attr('y',y(v)).attr('text-anchor','end').attr('dominant-baseline','central')
      .attr('font-family',FONT).attr('font-size',18).attr('fill','#111').text(v));
  if (p.top) g.append('text').attr('x',L-6).attr('y',T).attr('text-anchor','end').attr('dominant-baseline','central')
      .attr('font-family',FONT).attr('font-size',18).attr('fill','#111').text(p.top);

  // panel label; top-row labels sit just above the class labels, in the cropped margin
  if (p.row === 0) {
    labelLayer.append('text').attr('x',L+7).attr('y',17).attr('font-family',FONT).attr('font-size',14).attr('fill','#111').text(`(${p.k})`);
  } else {
    g.append('text').attr('x',L+7).attr('y',T+21).attr('font-family',FONT).attr('font-size',16).attr('fill','#111').text(`(${p.k})`);
  }

  // y title
  const tt = g.append('text').attr('transform',`translate(${L+p.tx},${(T+B)/2+p.ty}) rotate(-90)`).attr('text-anchor','middle')
    .attr('font-family',FONT).attr('font-size',19).attr('fill','#111');
  richText(tt, p.title, 13);

  // bottom axis labels
  if (p.row===5) {
    xTickLabels.forEach(v => g.append('text').attr('x',x(v)).attr('y',1565).attr('text-anchor','middle').attr('font-family',FONT).attr('font-size',18).attr('fill','#111').text(v));
    const xt = g.append('text').attr('x',(L+R)/2+12).attr('y',1589).attr('text-anchor','middle').attr('font-family',FONT).attr('font-size',19).attr('fill','#111');
    richText(xt, [["SiO",0],["2",1],[" (wt.%)",0]], 13);
  }
});

// legend in panel (k)
const lg = root.append('g');
lg.append('rect').attr('x',67).attr('y',1409).attr('width',135).attr('height',133).attr('fill','#fff').attr('stroke','#111').attr('stroke-width',1.3);
const legendItems = groups.concat(fieldNames);
const legendY = [1427,1443,1459,1474,1489,1503,1518,1532];
legendItems.forEach((name,i) => {
  const cy = legendY[i];
  if (i < groups.length) marker(lg, name, 80, cy, 0.95);
  else if (name === fieldNames[0]) lg.append('ellipse').attr('cx',80).attr('cy',cy).attr('rx',7.5).attr('ry',4.5).attr('transform',`rotate(-25,80,${cy})`).attr('fill','#7d7d7d').attr('stroke','#222').attr('stroke-width',0.9);
  else lg.append('ellipse').attr('cx',80).attr('cy',cy).attr('rx',7.5).attr('ry',4.5).attr('transform',`rotate(-25,80,${cy})`).attr('fill','#fff').attr('stroke','#333').attr('stroke-width',0.9);
  lg.append('text').attr('x',95).attr('y',cy+5).attr('font-family',FONT).attr('font-size',13).attr('fill','#111').text(name);
});
</script></body></html>
